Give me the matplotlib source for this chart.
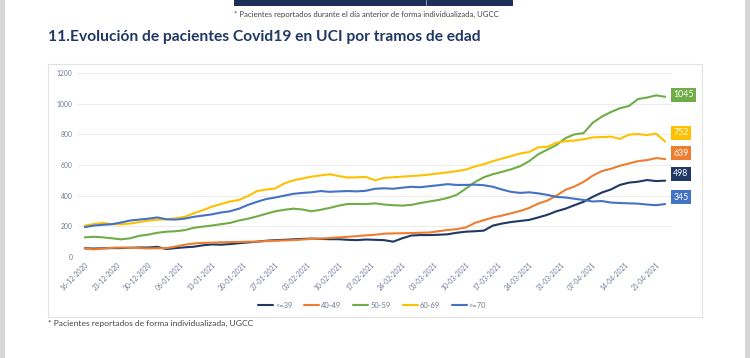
import matplotlib
matplotlib.use("Agg")
import matplotlib.pyplot as plt
from matplotlib.patches import Rectangle
import pandas as pd

# ---------------- data (values every 2 days, 16-12-2020 .. 23-04-2021) ----------------
dates = pd.date_range("2020-12-16", "2021-04-23", freq="2D")
tick_dates = pd.date_range("2020-12-16", "2021-04-21", freq="7D")
tick_labels = [d.strftime("%d-%m-%Y") for d in tick_dates]

series_names = ["<=39", "40-49", "50-59", "60-69", ">=70"]
le39 = [57, 55, 57, 58, 58, 60, 62, 62, 66, 52, 58, 63, 67, 76, 82, 80, 84, 90, 95, 100,
        106, 110, 112, 115, 118, 120, 118, 116, 116, 112, 110, 114, 112, 110, 100, 122, 140, 143, 143, 145,
        148, 158, 165, 168, 172, 205, 218, 228, 235, 242, 258, 275, 298, 315, 338, 360, 392, 420, 440, 470,
        485, 491, 502, 495, 498]
a40_49 = [55, 50, 55, 60, 62, 60, 58, 56, 57, 58, 68, 80, 88, 92, 93, 96, 97, 98, 100, 100,
          104, 106, 108, 110, 114, 118, 120, 124, 128, 132, 136, 141, 145, 152, 154, 155, 156, 158, 160, 168,
          176, 182, 192, 222, 240, 258, 270, 285, 300, 320, 348, 368, 400, 438, 460, 490, 530, 560, 575, 595,
          610, 625, 632, 645, 639]
a50_59 = [128, 132, 128, 122, 115, 122, 138, 146, 158, 165, 168, 175, 190, 198, 205, 214, 222, 238, 250, 265,
          282, 298, 308, 315, 310, 298, 308, 320, 335, 346, 346, 345, 350, 342, 338, 335, 340, 352, 362, 372,
          385, 405, 445, 488, 520, 540, 555, 572, 592, 625, 670, 700, 730, 775, 800, 808, 875, 915, 945, 970,
          985, 1030, 1040, 1054, 1045]
a60_69 = [205, 215, 222, 214, 213, 218, 228, 237, 243, 246, 252, 262, 285, 305, 328, 345, 362, 372, 398, 430,
          440, 447, 480, 500, 512, 524, 532, 540, 528, 518, 520, 522, 500, 516, 520, 524, 528, 532, 538, 545,
          552, 560, 570, 590, 605, 625, 642, 658, 675, 685, 715, 718, 745, 755, 760, 768, 780, 782, 785, 770,
          798, 802, 795, 805, 752]
ge70 = [195, 205, 210, 214, 225, 238, 244, 250, 258, 246, 244, 250, 262, 270, 278, 290, 298, 315, 340, 360,
        378, 388, 400, 412, 418, 422, 430, 425, 428, 430, 428, 432, 445, 448, 445, 452, 458, 455, 462, 468,
        475, 470, 470, 472, 468, 458, 440, 425, 418, 422, 415, 405, 392, 388, 380, 372, 362, 365, 355, 352,
        350, 348, 342, 338, 345]
final_labels = ["498", "639", "1045", "752", "345"]

colors = ["#1f3864", "#ed7d31", "#70ad47", "#ffc000", "#4472c4"]
label_offsets = [(8, 7), (8, 6), (8, 2), (8, 9), (8, 7)]

title = "11.Evolución de pacientes Covid19 en UCI por tramos de edad"
top_note = "* Pacientes reportados durante el día anterior de forma individualizada, UGCC"
bottom_note = "* Pacientes reportados de forma individualizada, UGCC"

# ---------------- figure ----------------
plt.rcParams["font.family"] = ["Lato", "DejaVu Sans"]
W, H = 750, 358
fig = plt.figure(figsize=(W / 100, H / 100), dpi=100)
fig.patch.set_facecolor("white")


def px_rect(x0, y0, x1, y1, **kw):
    fig.add_artist(Rectangle((x0 / W, 1 - y1 / H), (x1 - x0) / W, (y1 - y0) / H,
                             transform=fig.transFigure, zorder=-5, **kw))


# page edges
px_rect(0, 0, 5, H, facecolor="#d6d6d6", edgecolor="none")
px_rect(745, 0, W, H, facecolor="#d6d6d6", edgecolor="none")
# navy table remnant at top
px_rect(234, 0, 513, 6, facecolor="#1f2f5c", edgecolor="none")
px_rect(426, 0, 427.2, 6, facecolor="#8a93ad", edgecolor="none")
# chart box
px_rect(48, 64, 702, 317, facecolor="white", edgecolor="#e3e3e3", linewidth=0.8)

fig.text(366 / W, 1 - 14 / H, top_note, fontsize=5.6, color="#444444", ha="center", va="center")
fig.text(48 / W, 1 - 37 / H, title, fontsize=11.25, fontweight="bold", color="#1f3864",
         ha="left", va="center")
fig.text(48 / W, 1 - 323.5 / H, bottom_note, fontsize=6.1, color="#444444", ha="left", va="center")

# axes: x from 78 to 672 px, y from 73 to 257 px
ax = fig.add_axes([78 / W, (H - 257) / H, 594 / W, 184 / H])
ax.set_facecolor("none")
x = [(d - dates[0]).days for d in dates]
all_series = [le39, a40_49, a50_59, a60_69, ge70]
for name, vals, c, lab, off in zip(series_names, all_series, colors, final_labels, label_offsets):
    ax.plot(x, vals, color=c, linewidth=1.5, label=name, solid_capstyle="round")
    ax.annotate(lab, xy=(x[-1], vals[-1]), xytext=off, textcoords="offset pixels",
                ha="left", va="center", fontsize=6.3, color="white",
                bbox=dict(boxstyle="square,pad=0.28", facecolor=c, edgecolor="none"),
                annotation_clip=False)

ax.set_xlim(-1.5, 129.5)
ax.set_ylim(0, 1200)
ax.set_yticks(range(0, 1201, 200))
ax.set_yticklabels([str(v) for v in range(0, 1201, 200)])
ax.set_xticks([(d - dates[0]).days for d in tick_dates])
ax.set_xticklabels(tick_labels, rotation=45, ha="right", va="top", rotation_mode="anchor")
ax.tick_params(axis="both", length=0, labelsize=4.9, colors="#6d7b93")
ax.tick_params(axis="x", pad=3)
ax.tick_params(axis="y", pad=4)
ax.grid(axis="y", color="#ececec", linewidth=0.7)
ax.set_axisbelow(True)
for s in ax.spines.values():
    s.set_visible(False)

fig.legend(loc="center", bbox_to_anchor=(372 / W, 1 - 305 / H), ncol=5, frameon=False,
           fontsize=5.4, handlelength=2.0, handletextpad=0.25, columnspacing=1.6,
           labelcolor="#6d7b93")

fig.savefig("out.png", dpi=100, facecolor="white")
